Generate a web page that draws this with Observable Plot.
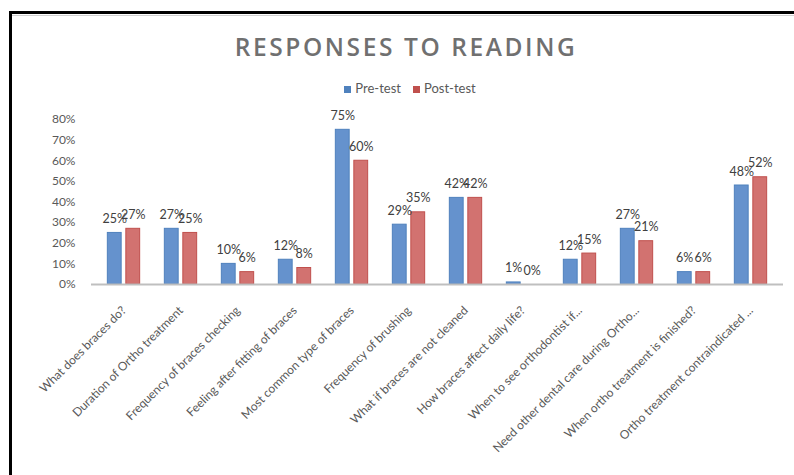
<!DOCTYPE html>
<html>
<head>
<meta charset="utf-8">
<script src="https://cdn.jsdelivr.net/npm/d3@7"></script>
<script src="https://cdn.jsdelivr.net/npm/@observablehq/plot@0.6"></script>
<style>
  html, body { margin: 0; padding: 0; background: #fff; overflow: hidden; }
  #frame { position: relative; width: 794px; height: 475px; overflow: hidden; background: #fff; }
  #borderTop { position: absolute; left: 9px; top: 11px; width: 785px; height: 3px; background: #000; z-index: 3; }
  #borderTop2 { position: absolute; left: 12px; top: 15px; width: 782px; height: 1px; background: #d0d0d0; z-index: 3; }
  #borderLeft { position: absolute; left: 9px; top: 11px; width: 3px; height: 464px; background: #000; z-index: 3; }
  #title { position: absolute; left: 0; width: 812px; top: 32px; text-align: center;
    font-family: "Open Sans", sans-serif; font-weight: 600; font-size: 24.5px; letter-spacing: 2.6px; color: #707070; line-height: 30px; }
  #legend { position: absolute; left: 0; width: 820px; top: 80px; text-align: center;
    font-family: Lato, sans-serif; font-size: 13px; color: #595959; line-height: 16px; }
  #legend span.sw { display: inline-block; width: 7px; height: 7px; margin-right: 4px; vertical-align: 0px; }
  #legend span.item { margin: 0 6px; }
  #chart { position: absolute; left: 0; top: 100px; }
</style>
</head>
<body>
<div id="frame">
  <div id="title">RESPONSES TO READING</div>
  <div id="legend"></div>
  <div id="chart"></div>
  <div id="borderTop"></div>
  <div id="borderTop2"></div>
  <div id="borderLeft"></div>
</div>
<script>
const categories = [
  "What does braces do?",
  "Duration of Ortho treatment",
  "Frequency of braces checking",
  "Feeling after fitting of braces",
  "Most common type of braces",
  "Frequency of brushing",
  "What if braces are not cleaned",
  "How braces affect daily life?",
  "When to see orthodontist if...",
  "Need other dental care during Ortho...",
  "When ortho treatment is finished?",
  "Ortho treatment contraindicated ..."
];
const seriesNames = ["Pre-test", "Post-test"];
const preTest  = [25, 27, 10, 12, 75, 29, 42, 1, 12, 27, 6, 48];
const postTest = [27, 25, 6, 8, 60, 35, 42, 0, 15, 21, 6, 52];
const yTicks = [0, 10, 20, 30, 40, 50, 60, 70, 80];
const colors = { "Pre-test": "#6592cd", "Post-test": "#d27270" };
const strokes = { "Pre-test": "#4f81bd", "Post-test": "#c0504d" };

const legend = document.getElementById("legend");
legend.innerHTML = seriesNames.map(s =>
  `<span class="item"><span class="sw" style="background:${strokes[s]}"></span>${s}</span>`).join("");

const pre = categories.map((c, i) => ({cat: c, v: preTest[i] / 100}));
const post = categories.map((c, i) => ({cat: c, v: postTest[i] / 100}));

const width = 794, height = 375;
const mL = 91, mR = 11;
const step = (width - mL - mR) / categories.length;
const half = step / 2;
const barW = 14.5, gap = 2;
const inA = half - gap - barW; // outer inset
const inB = half + gap;        // inner inset

const chart = Plot.plot({
  width, height,
  marginLeft: mL, marginRight: mR, marginTop: 19, marginBottom: 191,
  style: { fontFamily: "Lato, sans-serif", background: "transparent", overflow: "visible" },
  x: { domain: categories, padding: 0 },
  y: { domain: [0, 0.8], ticks: yTicks.map(d => d / 100), tickFormat: d => Math.round(d * 100) + "%" },
  marks: [
    Plot.axisY({ ticks: yTicks.map(d => d / 100), tickFormat: d => Math.round(d * 100) + "%",
      tickSize: 0, tickPadding: 16, fontSize: 12, color: "#595959", label: null }),
    Plot.axisX({ tickRotate: -45, tickSize: 0, tickPadding: 20, dx: 0, dy: 4, fontSize: 12,
      color: "#595959", label: null }),
    Plot.barY(pre, { x: "cat", y: "v", fill: colors["Pre-test"], stroke: strokes["Pre-test"], strokeWidth: 1,
      insetLeft: inA, insetRight: inB }),
    Plot.barY(post, { x: "cat", y: "v", fill: colors["Post-test"], stroke: strokes["Post-test"], strokeWidth: 1,
      insetLeft: inB, insetRight: inA }),
    Plot.ruleY([0], { stroke: "#bfbfbf", strokeWidth: 2 }),
    Plot.text(pre, { x: "cat", y: "v", text: d => Math.round(d.v * 100) + "%", dx: -(gap + barW / 2), dy: -14,
      fontSize: 12.5, fill: "#404040" }),
    Plot.text(post, { x: "cat", y: "v", text: d => Math.round(d.v * 100) + "%", dx: (gap + barW / 2), dy: -14,
      fontSize: 12.5, fill: "#404040" })
  ]
});
document.getElementById("chart").appendChild(chart);
</script>
</body>
</html>
